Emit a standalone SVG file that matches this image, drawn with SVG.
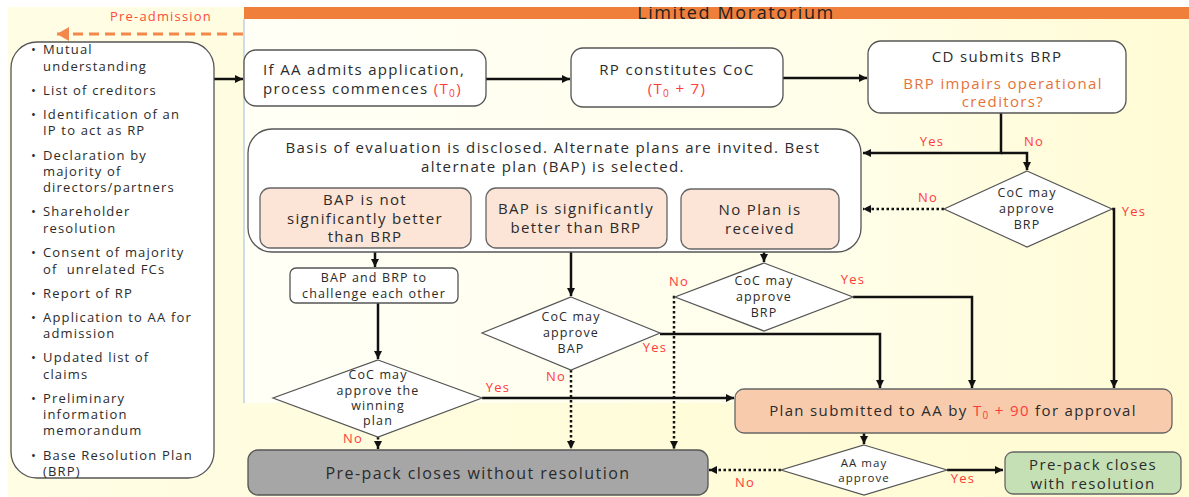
<svg xmlns="http://www.w3.org/2000/svg" width="1189" height="497" viewBox="0 0 1189 497">
<defs>
<linearGradient id="bg" x1="0" y1="0" x2="1" y2="0">
<stop offset="0" stop-color="#FFFDE4"/>
<stop offset="1" stop-color="#FFFBD2"/>
</linearGradient>
<linearGradient id="mor" x1="0" y1="0" x2="1" y2="0">
<stop offset="0" stop-color="#FFFFF6"/>
<stop offset="0.6" stop-color="#FFFEEA"/>
<stop offset="1" stop-color="#FFFBD4"/>
</linearGradient>
<marker id="ah" markerUnits="userSpaceOnUse" markerWidth="9" markerHeight="9" refX="8" refY="4.5" orient="auto">
<path d="M0,0.5 L8,4.5 L0,8.5 z" fill="#111"/>
</marker>
<marker id="oah" markerUnits="userSpaceOnUse" markerWidth="14" markerHeight="14" refX="12" refY="7" orient="auto">
<path d="M0,0 L12,7 L0,14 z" fill="#F4874B"/>
</marker>
</defs>
<style>
text{font-family:"Open Sans","Noto Sans","Liberation Sans",sans-serif;fill:#2b2b2b;letter-spacing:0.09em}
.lst{font-size:13px}
.t15{font-size:15px}
.t13{font-size:12.5px}
.red{fill:#FF3B3B}
.lbl{font-size:13px;fill:#FF3B3B}
.box{fill:#fff;stroke:#555;stroke-width:1.3}
.peach{fill:#FCE4D6;stroke:#666;stroke-width:1.3}
.dia{fill:#fff;stroke:#555;stroke-width:1.2}
.c{stroke:#111;stroke-width:2.5;fill:none}
.d{stroke:#111;stroke-width:2.5;fill:none;stroke-dasharray:2.5 2.5}
</style>
<rect x="0" y="0" width="1189" height="497" fill="#fff"/>
<rect x="8" y="7" width="1181" height="490" fill="url(#bg)"/>
<rect x="244" y="19" width="945" height="384" fill="url(#mor)"/>
<line x1="244" y1="19" x2="244" y2="403" stroke="#BFD0E6" stroke-width="1.5"/>
<rect x="244" y="7" width="945" height="12" fill="#F07F3C"/>
<text x="736" y="19" text-anchor="middle" style="font-size:18px;fill:#222">Limited Moratorium</text>
<rect x="0" y="0" width="1189" height="7" fill="#fff"/>
<text x="161" y="21" text-anchor="middle" style="font-size:13px;fill:#FF4A3A">Pre-admission</text>
<g id="connectors">
<line x1="243" y1="34" x2="57" y2="34" stroke="#F4874B" stroke-width="3" stroke-dasharray="10 6" marker-end="url(#oah)"/>
<line class="c" x1="214" y1="79" x2="243" y2="79" marker-end="url(#ah)"/>
<line class="c" x1="486" y1="79" x2="570" y2="79" marker-end="url(#ah)"/>
<line class="c" x1="783" y1="78" x2="867" y2="78" marker-end="url(#ah)"/>
<polyline class="c" points="1001,113 1001,153 863,153" marker-end="url(#ah)"/>
<polyline class="c" points="1001,153 1027,153 1027,170" marker-end="url(#ah)"/>
<line class="d" x1="944" y1="209" x2="863" y2="209" marker-end="url(#ah)"/>
<polyline class="c" points="1112,209 1114,209 1114,388" marker-end="url(#ah)"/>
<line class="c" x1="375" y1="252" x2="375" y2="267" marker-end="url(#ah)"/>
<line class="c" x1="378" y1="303" x2="378" y2="359" marker-end="url(#ah)"/>
<line class="c" x1="482" y1="398" x2="734" y2="398" marker-end="url(#ah)"/>
<line class="d" x1="378" y1="437" x2="378" y2="449" marker-end="url(#ah)"/>
<line class="c" x1="571" y1="252" x2="571" y2="296" marker-end="url(#ah)"/>
<polyline class="c" points="660,334 880,334 880,388" marker-end="url(#ah)"/>
<line class="d" x1="571" y1="370" x2="571" y2="449" marker-end="url(#ah)"/>
<line class="c" x1="764" y1="249" x2="764" y2="262" marker-end="url(#ah)"/>
<polyline class="c" points="853,297 972,297 972,388" marker-end="url(#ah)"/>
<polyline class="d" points="675,297 674,297 674,449" marker-end="url(#ah)"/>
<line class="c" x1="864" y1="433" x2="864" y2="444" marker-end="url(#ah)"/>
<line class="d" x1="781" y1="470" x2="709" y2="470" marker-end="url(#ah)"/>
<line class="c" x1="947" y1="470" x2="1003" y2="470" marker-end="url(#ah)"/>
</g>
<g id="labels">
<text class="lbl" x="932" y="146" text-anchor="middle">Yes</text>
<text class="lbl" x="1034" y="146" text-anchor="middle">No</text>
<text class="lbl" x="928" y="202" text-anchor="middle">No</text>
<text class="lbl" x="1134" y="216" text-anchor="middle">Yes</text>
<text class="lbl" x="498" y="392" text-anchor="middle">Yes</text>
<text class="lbl" x="353" y="443" text-anchor="middle">No</text>
<text class="lbl" x="655" y="352" text-anchor="middle">Yes</text>
<text class="lbl" x="556" y="381" text-anchor="middle">No</text>
<text class="lbl" x="853" y="284" text-anchor="middle">Yes</text>
<text class="lbl" x="679" y="286" text-anchor="middle">No</text>
<text class="lbl" x="745" y="487" text-anchor="middle">No</text>
<text class="lbl" x="963" y="483" text-anchor="middle">Yes</text>
</g>
<g id="prereq">
<rect class="box" x="11" y="42" width="203" height="436" rx="26"/>
<g class="lst">
<text x="31" y="54">•</text><text x="43" y="54">Mutual</text>
<text x="43" y="71">understanding</text>
<text x="31" y="95">•</text><text x="43" y="95">List of creditors</text>
<text x="31" y="119">•</text><text x="43" y="119">Identification of an</text>
<text x="43" y="135">IP to act as RP</text>
<text x="31" y="160">•</text><text x="43" y="160">Declaration by</text>
<text x="43" y="176">majority of</text>
<text x="43" y="192">directors/partners</text>
<text x="31" y="216">•</text><text x="43" y="216">Shareholder</text>
<text x="43" y="233">resolution</text>
<text x="31" y="257">•</text><text x="43" y="257">Consent of majority</text>
<text x="43" y="274" xml:space="preserve">of  unrelated FCs</text>
<text x="31" y="298">•</text><text x="43" y="298">Report of RP</text>
<text x="31" y="322">•</text><text x="43" y="322">Application to AA for</text>
<text x="43" y="338">admission</text>
<text x="31" y="362">•</text><text x="43" y="362">Updated list of</text>
<text x="43" y="379">claims</text>
<text x="31" y="403">•</text><text x="43" y="403">Preliminary</text>
<text x="43" y="419">information</text>
<text x="43" y="435">memorandum</text>
<text x="31" y="460">•</text><text x="43" y="460">Base Resolution Plan</text>
<text x="43" y="476">(BRP)</text>
</g>
</g>
<g id="admits">
<rect class="box" x="244" y="50" width="242" height="56" rx="12"/>
<text class="t15" x="263" y="75">If AA admits application,</text>
<text class="t15" x="263" y="94">process commences <tspan class="red">(T<tspan font-size="10" dy="3">0</tspan><tspan dy="-3">)</tspan></tspan></text>
</g>
<g id="coc">
<rect class="box" x="571" y="48" width="212" height="59" rx="12"/>
<text class="t15" x="677" y="75" text-anchor="middle">RP constitutes CoC</text>
<text class="t15 red" x="677" y="94" text-anchor="middle">(T<tspan font-size="10" dy="3">0</tspan><tspan dy="-3"> + 7)</tspan></text>
</g>
<g id="brp">
<rect class="box" x="868" y="41" width="258" height="72" rx="13"/>
<text class="t15" x="997" y="62" text-anchor="middle">CD submits BRP</text>
<text class="t15" x="1003" y="89" text-anchor="middle" style="fill:#E4733A">BRP impairs operational</text>
<text class="t15" x="1003" y="107" text-anchor="middle" style="fill:#E4733A">creditors?</text>
</g>
<g id="basis">
<rect class="box" x="248" y="129" width="613" height="123" rx="24"/>
<text class="t15" x="553" y="153" text-anchor="middle">Basis of evaluation is disclosed. Alternate plans are invited. Best</text>
<text class="t15" x="553" y="172" text-anchor="middle">alternate plan (BAP) is selected.</text>
</g>
<g id="bapnot">
<rect class="peach" x="260" y="188" width="211" height="60" rx="10"/>
<text class="t15" x="365" y="205" text-anchor="middle">BAP is not</text>
<text class="t15" x="365" y="224" text-anchor="middle">significantly better</text>
<text class="t15" x="365" y="242" text-anchor="middle">than BRP</text>
</g>
<g id="bapbetter">
<rect class="peach" x="486" y="188" width="181" height="60" rx="10"/>
<text class="t15" x="576" y="214" text-anchor="middle">BAP is significantly</text>
<text class="t15" x="576" y="233" text-anchor="middle">better than BRP</text>
</g>
<g id="noplan">
<rect class="peach" x="681" y="189" width="158" height="60" rx="10"/>
<text class="t15" x="760" y="215" text-anchor="middle">No Plan is</text>
<text class="t15" x="760" y="234" text-anchor="middle">received</text>
</g>
<g id="challenge">
<rect class="box" x="290" y="268" width="168" height="35" rx="6"/>
<text class="t13" x="374" y="282" text-anchor="middle">BAP and BRP to</text>
<text class="t13" x="374" y="298" text-anchor="middle">challenge each other</text>
</g>
<g id="d-brp1">
<polygon class="dia" points="1027,171 1112,209 1027,247 944,209"/>
<text class="t13" x="1027" y="197" text-anchor="middle">CoC may</text>
<text class="t13" x="1027" y="213" text-anchor="middle">approve</text>
<text class="t13" x="1027" y="229" text-anchor="middle">BRP</text>
</g>
<g id="d-winning">
<polygon class="dia" points="378,360 482,398 378,437 273,398"/>
<text class="t13" x="378" y="379" text-anchor="middle">CoC may</text>
<text class="t13" x="378" y="395" text-anchor="middle">approve the</text>
<text class="t13" x="378" y="410" text-anchor="middle">winning</text>
<text class="t13" x="378" y="425" text-anchor="middle">plan</text>
</g>
<g id="d-bap">
<polygon class="dia" points="571,297 660,333 571,370 482,333"/>
<text class="t13" x="571" y="321" text-anchor="middle">CoC may</text>
<text class="t13" x="571" y="337" text-anchor="middle">approve</text>
<text class="t13" x="571" y="353" text-anchor="middle">BAP</text>
</g>
<g id="d-brp2">
<polygon class="dia" points="764,263 853,297 764,331 675,297"/>
<text class="t13" x="764" y="285" text-anchor="middle">CoC may</text>
<text class="t13" x="764" y="301" text-anchor="middle">approve</text>
<text class="t13" x="764" y="317" text-anchor="middle">BRP</text>
</g>
<g id="plan">
<rect x="735" y="389" width="437" height="44" rx="9" fill="#F8CBAD" stroke="#666" stroke-width="1.3"/>
<text class="t15" x="953" y="416" text-anchor="middle">Plan submitted to AA by <tspan class="red">T<tspan font-size="10" dy="3">0</tspan><tspan dy="-3"> + 90</tspan></tspan> for approval</text>
</g>
<g id="d-aa">
<polygon class="dia" points="864,445 947,470 864,495 781,470"/>
<text x="864" y="467" text-anchor="middle" style="font-size:11.5px">AA may</text>
<text x="864" y="482" text-anchor="middle" style="font-size:11.5px">approve</text>
</g>
<g id="closes-without">
<rect x="248" y="450" width="460" height="45" rx="10" fill="#A6A6A6" stroke="#555" stroke-width="1.3"/>
<text x="478" y="479" text-anchor="middle" style="font-size:16px;fill:#2a2a2a">Pre-pack closes without resolution</text>
</g>
<g id="closes-with">
<rect x="1005" y="452" width="176" height="42" rx="8" fill="#C5E0B4" stroke="#666" stroke-width="1.3"/>
<text class="t15" x="1093" y="470" text-anchor="middle">Pre-pack closes</text>
<text class="t15" x="1093" y="489" text-anchor="middle">with resolution</text>
</g>
</svg>
